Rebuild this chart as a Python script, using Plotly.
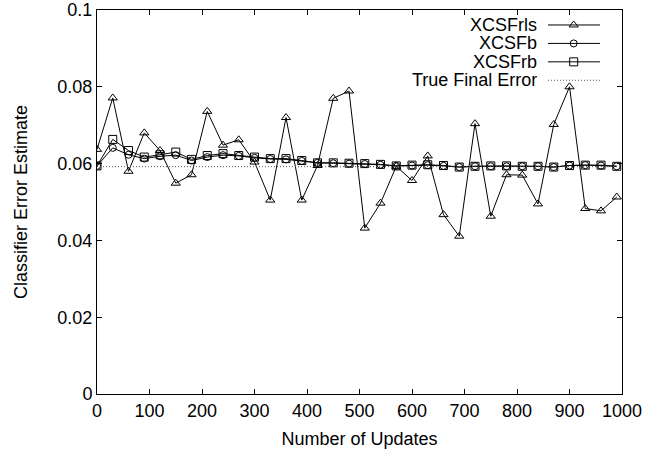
import plotly.graph_objects as go

updates = list(range(0, 1000, 30))

xcsf_rls = [0.0637, 0.0771, 0.0580, 0.0680, 0.0634, 0.0549, 0.0571, 0.0736,
            0.0648, 0.0662, 0.0604, 0.0505, 0.0720, 0.0505, 0.0595, 0.0770,
            0.0789, 0.0432, 0.0497, 0.0593, 0.0556, 0.0620, 0.0467, 0.0411,
            0.0704, 0.0463, 0.0571, 0.0570, 0.0495, 0.0702, 0.0800, 0.0483,
            0.0477, 0.0513]

xcsf_b = [0.0594, 0.0641, 0.0623, 0.0613, 0.0619, 0.0622, 0.0608, 0.0617,
          0.0622, 0.0620, 0.0615, 0.0612, 0.0611, 0.0607, 0.0602, 0.0601,
          0.0600, 0.0599, 0.0597, 0.0594, 0.0595, 0.0596, 0.0594, 0.0591,
          0.0593, 0.0593, 0.0593, 0.0593, 0.0593, 0.0591, 0.0595, 0.0596,
          0.0595, 0.0593]

xcsf_rb = [0.0594, 0.0663, 0.0634, 0.0617, 0.0623, 0.0630, 0.0611, 0.0621,
           0.0626, 0.0621, 0.0617, 0.0613, 0.0613, 0.0608, 0.0602, 0.0602,
           0.0601, 0.0600, 0.0598, 0.0594, 0.0596, 0.0597, 0.0595, 0.0591,
           0.0593, 0.0594, 0.0594, 0.0593, 0.0593, 0.0591, 0.0595, 0.0596,
           0.0596, 0.0593]

true_x = [0, 1000]
true_final_error = [0.0592, 0.0592]

series_names = ["XCSFrls", "XCSFb", "XCSFrb", "True Final Error"]
x_ticks = [0, 100, 200, 300, 400, 500, 600, 700, 800, 900, 1000]
y_ticks = [0, 0.02, 0.04, 0.06, 0.08, 0.1]
y_tick_text = ["0", "0.02", "0.04", "0.06", "0.08", "0.1"]

FONT = "Liberation Sans, Arial, Helvetica, sans-serif"
FS = 18
BLACK = "#000000"
DOT_COLOR = "#555555"
DOT_DASH = "1px,2px"

fig = go.Figure()

series = [
    (xcsf_rls, "triangle-up-open", 8),
    (xcsf_b, "circle-open", 7),
    (xcsf_rb, "square-open", 8),
]
for (vals, sym, sz), name in zip(series, series_names[:3]):
    fig.add_trace(go.Scatter(
        x=updates, y=vals, mode="lines+markers", name=name,
        line=dict(color=BLACK, width=1),
        marker=dict(symbol=sym, size=sz, color=BLACK, line=dict(width=1, color=BLACK)),
        showlegend=False,
    ))

fig.add_trace(go.Scatter(
    x=true_x, y=true_final_error, mode="lines", name=series_names[3],
    line=dict(color=DOT_COLOR, width=1, dash=DOT_DASH), showlegend=False,
))

# gnuplot-style key (text right-aligned, sample on its right) on an overlay axis
key_rows = [0.961, 0.913, 0.865, 0.817]
key_x0, key_x1, key_xm, key_text_x = 0.859, 0.958, 0.908, 0.842
key_syms = ["triangle-up-open", "circle-open", "square-open", None]
key_sizes = [8, 7, 8, 0]
for i, (name, ky) in enumerate(zip(series_names, key_rows)):
    if key_syms[i] is None:
        fig.add_trace(go.Scatter(
            x=[key_x0, key_x1], y=[ky, ky], mode="lines", xaxis="x2", yaxis="y2",
            line=dict(color=DOT_COLOR, width=1, dash=DOT_DASH),
            showlegend=False, hoverinfo="skip"))
    else:
        fig.add_trace(go.Scatter(
            x=[key_x0, key_x1], y=[ky, ky], mode="lines", xaxis="x2", yaxis="y2",
            line=dict(color=BLACK, width=1), showlegend=False, hoverinfo="skip"))
        fig.add_trace(go.Scatter(
            x=[key_xm], y=[ky], mode="markers", xaxis="x2", yaxis="y2",
            marker=dict(symbol=key_syms[i], size=key_sizes[i], color=BLACK,
                        line=dict(width=1, color=BLACK)),
            showlegend=False, hoverinfo="skip"))
    fig.add_annotation(
        x=key_text_x, y=ky, xref="x2", yref="y2", text=name, showarrow=False,
        xanchor="right", yanchor="middle", height=16,
        font=dict(family=FONT, size=FS, color=BLACK))

fig.update_layout(
    width=645, height=452,
    margin=dict(l=97, r=23, t=10, b=58, autoexpand=False),
    paper_bgcolor="white", plot_bgcolor="white",
    font=dict(family=FONT, size=FS, color=BLACK),
    xaxis=dict(
        range=[0, 1000], tickvals=x_ticks, ticks="inside", ticklen=5,
        tickcolor=BLACK, showline=True, linecolor=BLACK, linewidth=1,
        mirror="ticks", showgrid=False, zeroline=False, automargin=False,
        title=dict(text="Number of Updates", standoff=12, font=dict(size=FS)),
        tickfont=dict(size=FS),
    ),
    yaxis=dict(
        range=[0, 0.1], tickvals=y_ticks, ticktext=y_tick_text, ticks="inside",
        ticklen=5, tickcolor=BLACK, showline=True, linecolor=BLACK, linewidth=1,
        mirror="ticks", showgrid=False, zeroline=False, automargin=False,
        title=dict(text="Classifier Error Estimate", standoff=25, font=dict(size=FS)),
        tickfont=dict(size=FS),
    ),
    xaxis2=dict(overlaying="x", range=[0, 1], visible=False, fixedrange=True),
    yaxis2=dict(overlaying="y", range=[0, 1], visible=False, fixedrange=True),
    showlegend=False,
)

# remove the browser's default 8px body margin so the figure fills the window
fig.write_html("out.html",
               config={"displayModeBar": False, "staticPlot": True},
               post_script="document.body.style.margin='0';document.body.style.overflow='hidden';")
